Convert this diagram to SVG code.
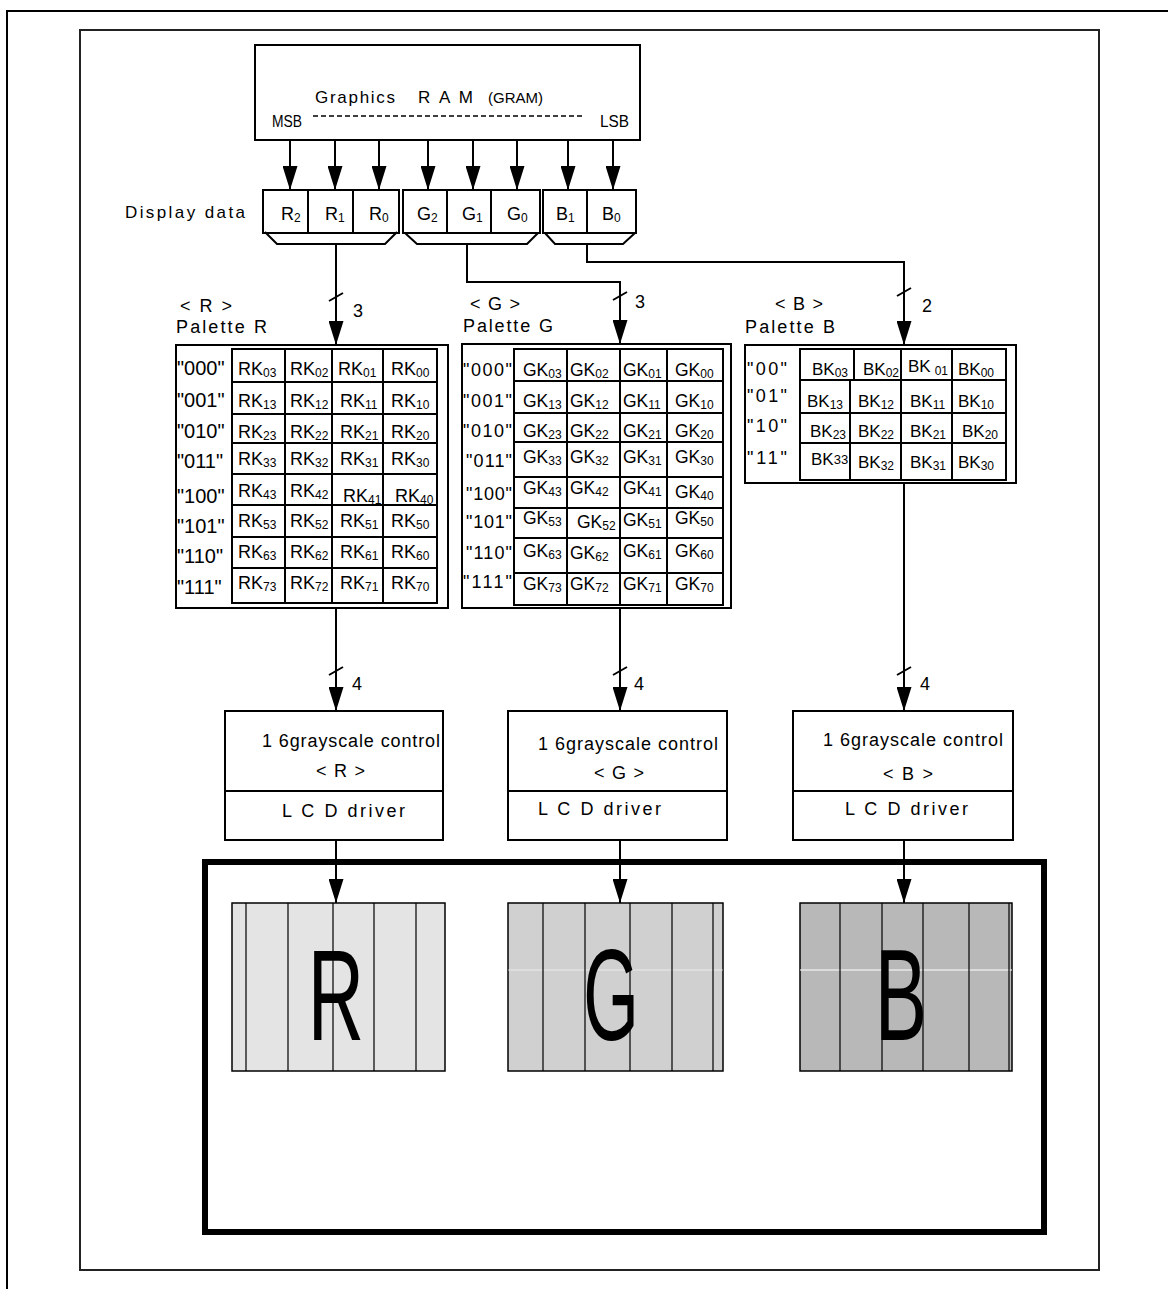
<svg xmlns="http://www.w3.org/2000/svg" width="1168" height="1289" viewBox="0 0 1168 1289">
<style>
text{font-family:"Liberation Sans",Arial,sans-serif;fill:#000}
.t16{font-size:17px}
.lab{font-size:18px}
.rl{font-size:20px}
.rc{font-size:18px}
.gc{font-size:17.5px}
.bc{font-size:17px}
.sub{font-size:12px}
.ln{stroke:#000;stroke-width:2;fill:none}
.box{fill:#fff;stroke:#000;stroke-width:2}
.grid{fill:none;stroke:#000;stroke-width:2}
.big{font-size:130px}
</style>
<defs>
<marker id="ah" viewBox="0 0 24 15" refX="24" refY="7.5" markerWidth="24" markerHeight="15" markerUnits="userSpaceOnUse" orient="auto">
<path d="M0,0 L24,7.5 L0,15 z" fill="#000"/>
</marker>
</defs>
<rect width="1168" height="1289" fill="#fff"/>
<g id="frames">
<path d="M7,1289 V11 H1168" class="ln"/>
<rect x="80" y="30" width="1019" height="1240" fill="none" stroke="#222" stroke-width="2"/>
<rect x="205" y="862" width="839" height="370" fill="none" stroke="#000" stroke-width="6"/>
</g>
<g id="gram">
<rect x="255" y="45" width="385" height="95" class="box"/>
<text class="t16" x="315" y="103" textLength="80" lengthAdjust="spacing">Graphics</text>
<text class="t16" x="418" y="103" textLength="55" lengthAdjust="spacing">R A M</text>
<text x="488" y="103" font-size="15" textLength="55" lengthAdjust="spacing">(GRAM)</text>
<text x="272" y="127" font-size="16" textLength="30" lengthAdjust="spacingAndGlyphs">MSB</text>
<text x="600" y="127" font-size="16" textLength="29" lengthAdjust="spacingAndGlyphs">LSB</text>
<line x1="313" y1="116" x2="585" y2="116" stroke="#000" stroke-width="1.5" stroke-dasharray="5 3"/>
</g>
<g id="display-data">
<text class="t16" x="125" y="218" textLength="120" lengthAdjust="spacing">Display data</text>
<rect x="263" y="190" width="136" height="43" class="box"/>
<line x1="308" y1="190" x2="308" y2="233" class="ln"/>
<line x1="353" y1="190" x2="353" y2="233" class="ln"/>
<rect x="403" y="190" width="137" height="43" class="box"/>
<line x1="447" y1="190" x2="447" y2="233" class="ln"/>
<line x1="491" y1="190" x2="491" y2="233" class="ln"/>
<rect x="543" y="190" width="93" height="43" class="box"/>
<line x1="587" y1="190" x2="587" y2="233" class="ln"/>
<text class="lab" x="281" y="220">R<tspan class="sub" dy="2">2</tspan></text>
<text class="lab" x="325" y="220">R<tspan class="sub" dy="2">1</tspan></text>
<text class="lab" x="369" y="220">R<tspan class="sub" dy="2">0</tspan></text>
<text class="lab" x="417" y="220">G<tspan class="sub" dy="2">2</tspan></text>
<text class="lab" x="462" y="220">G<tspan class="sub" dy="2">1</tspan></text>
<text class="lab" x="507" y="220">G<tspan class="sub" dy="2">0</tspan></text>
<text class="lab" x="556" y="220">B<tspan class="sub" dy="2">1</tspan></text>
<text class="lab" x="602" y="220">B<tspan class="sub" dy="2">0</tspan></text>
<path d="M265,232 L277,244 H385 L397,232" class="ln"/>
<path d="M405,233 L417,244 H527 L538,233" class="ln"/>
<path d="M545,233 L555,244 H623 L635,233" class="ln"/>
</g>
<g id="palette-r">
<text class="lab" x="180" y="312" textLength="52" lengthAdjust="spacing">&lt; R &gt;</text>
<text class="lab" x="176" y="333" textLength="91" lengthAdjust="spacing">Palette R</text>
<rect x="176" y="345" width="272" height="263" class="box"/>
<rect x="232" y="349" width="205" height="254" class="grid"/>
<path d="M232,382H437M232,414H437M232,443H437M232,474H437M232,505H437M232,537H437M232,568H437M285,349V603M332,349V603M383,349V603" class="grid"/>
<text class="rl" x="177" y="375">"000"</text>
<text class="rl" x="177" y="407">"001"</text>
<text class="rl" x="177" y="438">"010"</text>
<text class="rl" x="177" y="468">"011"</text>
<text class="rl" x="177" y="503">"100"</text>
<text class="rl" x="177" y="533">"101"</text>
<text class="rl" x="177" y="563">"110"</text>
<text class="rl" x="177" y="594">"111"</text>
<text class="rc" x="238" y="375">RK<tspan class="sub" dy="2">03</tspan></text>
<text class="rc" x="290" y="375">RK<tspan class="sub" dy="2">02</tspan></text>
<text class="rc" x="338" y="375">RK<tspan class="sub" dy="2">01</tspan></text>
<text class="rc" x="391" y="375">RK<tspan class="sub" dy="2">00</tspan></text>
<text class="rc" x="238" y="407">RK<tspan class="sub" dy="2">13</tspan></text>
<text class="rc" x="290" y="407">RK<tspan class="sub" dy="2">12</tspan></text>
<text class="rc" x="340" y="407">RK<tspan class="sub" dy="2">11</tspan></text>
<text class="rc" x="391" y="407">RK<tspan class="sub" dy="2">10</tspan></text>
<text class="rc" x="238" y="438">RK<tspan class="sub" dy="2">23</tspan></text>
<text class="rc" x="290" y="438">RK<tspan class="sub" dy="2">22</tspan></text>
<text class="rc" x="340" y="438">RK<tspan class="sub" dy="2">21</tspan></text>
<text class="rc" x="391" y="438">RK<tspan class="sub" dy="2">20</tspan></text>
<text class="rc" x="238" y="465">RK<tspan class="sub" dy="2">33</tspan></text>
<text class="rc" x="290" y="465">RK<tspan class="sub" dy="2">32</tspan></text>
<text class="rc" x="340" y="465">RK<tspan class="sub" dy="2">31</tspan></text>
<text class="rc" x="391" y="465">RK<tspan class="sub" dy="2">30</tspan></text>
<text class="rc" x="238" y="497">RK<tspan class="sub" dy="2">43</tspan></text>
<text class="rc" x="290" y="497">RK<tspan class="sub" dy="2">42</tspan></text>
<text class="rc" x="343" y="502">RK<tspan class="sub" dy="2">41</tspan></text>
<text class="rc" x="395" y="502">RK<tspan class="sub" dy="2">40</tspan></text>
<text class="rc" x="238" y="527">RK<tspan class="sub" dy="2">53</tspan></text>
<text class="rc" x="290" y="527">RK<tspan class="sub" dy="2">52</tspan></text>
<text class="rc" x="340" y="527">RK<tspan class="sub" dy="2">51</tspan></text>
<text class="rc" x="391" y="527">RK<tspan class="sub" dy="2">50</tspan></text>
<text class="rc" x="238" y="558">RK<tspan class="sub" dy="2">63</tspan></text>
<text class="rc" x="290" y="558">RK<tspan class="sub" dy="2">62</tspan></text>
<text class="rc" x="340" y="558">RK<tspan class="sub" dy="2">61</tspan></text>
<text class="rc" x="391" y="558">RK<tspan class="sub" dy="2">60</tspan></text>
<text class="rc" x="238" y="589">RK<tspan class="sub" dy="2">73</tspan></text>
<text class="rc" x="290" y="589">RK<tspan class="sub" dy="2">72</tspan></text>
<text class="rc" x="340" y="589">RK<tspan class="sub" dy="2">71</tspan></text>
<text class="rc" x="391" y="589">RK<tspan class="sub" dy="2">70</tspan></text>
</g>
<g id="palette-g">
<text class="lab" x="470" y="310" textLength="50" lengthAdjust="spacing">&lt; G &gt;</text>
<text class="lab" x="463" y="332" textLength="90" lengthAdjust="spacing">Palette G</text>
<rect x="462" y="344" width="269" height="264" class="box"/>
<rect x="514" y="349" width="209" height="256" class="grid"/>
<path d="M514,381H723M514,413H723M514,442H723M514,477H723M514,508H723M514,538H723M514,573H723M567,349V605M620,349V605M667,349V605" class="grid"/>
<text class="lab" x="463" y="376" textLength="49">"000"</text>
<text class="lab" x="463" y="407" textLength="49">"001"</text>
<text class="lab" x="463" y="437" textLength="49">"010"</text>
<text class="lab" x="466" y="467" textLength="46">"011"</text>
<text class="lab" x="466" y="500" textLength="46">"100"</text>
<text class="lab" x="466" y="528" textLength="46">"101"</text>
<text class="lab" x="466" y="559" textLength="46">"110"</text>
<text class="lab" x="463" y="588" textLength="49">"111"</text>
<text class="gc" x="523" y="376">GK<tspan class="sub" dy="2">03</tspan></text>
<text class="gc" x="570" y="376">GK<tspan class="sub" dy="2">02</tspan></text>
<text class="gc" x="623" y="376">GK<tspan class="sub" dy="2">01</tspan></text>
<text class="gc" x="675" y="376">GK<tspan class="sub" dy="2">00</tspan></text>
<text class="gc" x="523" y="407">GK<tspan class="sub" dy="2">13</tspan></text>
<text class="gc" x="570" y="407">GK<tspan class="sub" dy="2">12</tspan></text>
<text class="gc" x="623" y="407">GK<tspan class="sub" dy="2">11</tspan></text>
<text class="gc" x="675" y="407">GK<tspan class="sub" dy="2">10</tspan></text>
<text class="gc" x="523" y="437">GK<tspan class="sub" dy="2">23</tspan></text>
<text class="gc" x="570" y="437">GK<tspan class="sub" dy="2">22</tspan></text>
<text class="gc" x="623" y="437">GK<tspan class="sub" dy="2">21</tspan></text>
<text class="gc" x="675" y="437">GK<tspan class="sub" dy="2">20</tspan></text>
<text class="gc" x="523" y="463">GK<tspan class="sub" dy="2">33</tspan></text>
<text class="gc" x="570" y="463">GK<tspan class="sub" dy="2">32</tspan></text>
<text class="gc" x="623" y="463">GK<tspan class="sub" dy="2">31</tspan></text>
<text class="gc" x="675" y="463">GK<tspan class="sub" dy="2">30</tspan></text>
<text class="gc" x="523" y="494">GK<tspan class="sub" dy="2">43</tspan></text>
<text class="gc" x="570" y="494">GK<tspan class="sub" dy="2">42</tspan></text>
<text class="gc" x="623" y="494">GK<tspan class="sub" dy="2">41</tspan></text>
<text class="gc" x="675" y="498">GK<tspan class="sub" dy="2">40</tspan></text>
<text class="gc" x="523" y="524">GK<tspan class="sub" dy="2">53</tspan></text>
<text class="gc" x="577" y="528">GK<tspan class="sub" dy="2">52</tspan></text>
<text class="gc" x="623" y="526">GK<tspan class="sub" dy="2">51</tspan></text>
<text class="gc" x="675" y="524">GK<tspan class="sub" dy="2">50</tspan></text>
<text class="gc" x="523" y="557">GK<tspan class="sub" dy="2">63</tspan></text>
<text class="gc" x="570" y="559">GK<tspan class="sub" dy="2">62</tspan></text>
<text class="gc" x="623" y="557">GK<tspan class="sub" dy="2">61</tspan></text>
<text class="gc" x="675" y="557">GK<tspan class="sub" dy="2">60</tspan></text>
<text class="gc" x="523" y="590">GK<tspan class="sub" dy="2">73</tspan></text>
<text class="gc" x="570" y="590">GK<tspan class="sub" dy="2">72</tspan></text>
<text class="gc" x="623" y="590">GK<tspan class="sub" dy="2">71</tspan></text>
<text class="gc" x="675" y="590">GK<tspan class="sub" dy="2">70</tspan></text>
</g>
<g id="palette-b">
<text class="lab" x="775" y="310" textLength="48" lengthAdjust="spacing">&lt; B &gt;</text>
<text class="lab" x="745" y="333" textLength="90" lengthAdjust="spacing">Palette B</text>
<rect x="745" y="345" width="271" height="138" class="box"/>
<rect x="800" y="349" width="206" height="131" class="grid"/>
<path d="M800,380H1006M800,413H1006M800,443H1006M854,349V380M850,380V480M901,349V480M952,349V480" class="grid"/>
<text class="lab" x="747" y="375" textLength="40">"00"</text>
<text class="lab" x="747" y="402" textLength="40">"01"</text>
<text class="lab" x="747" y="432" textLength="40">"10"</text>
<text class="lab" x="747" y="464" textLength="40">"11"</text>
<text class="bc" x="812" y="375">BK<tspan class="sub" dy="2">03</tspan></text>
<text class="bc" x="863" y="375">BK<tspan class="sub" dy="2">02</tspan></text>
<text class="bc" x="908" y="372">BK<tspan class="sub" dx="4" dy="3">01</tspan></text>
<text class="bc" x="958" y="375">BK<tspan class="sub" dy="2">00</tspan></text>
<text class="bc" x="807" y="407">BK<tspan class="sub" dy="2">13</tspan></text>
<text class="bc" x="858" y="407">BK<tspan class="sub" dy="2">12</tspan></text>
<text class="bc" x="910" y="407">BK<tspan class="sub" dy="2">11</tspan></text>
<text class="bc" x="958" y="407">BK<tspan class="sub" dy="2">10</tspan></text>
<text class="bc" x="810" y="437">BK<tspan class="sub" dy="2">23</tspan></text>
<text class="bc" x="858" y="437">BK<tspan class="sub" dy="2">22</tspan></text>
<text class="bc" x="910" y="437">BK<tspan class="sub" dy="2">21</tspan></text>
<text class="bc" x="962" y="437">BK<tspan class="sub" dy="2">20</tspan></text>
<text class="bc" x="811" y="465">BK<tspan font-size="13" dy="-1">33</tspan></text>
<text class="bc" x="858" y="468">BK<tspan class="sub" dy="2">32</tspan></text>
<text class="bc" x="910" y="468">BK<tspan class="sub" dy="2">31</tspan></text>
<text class="bc" x="958" y="468">BK<tspan class="sub" dy="2">30</tspan></text>
</g>
<g id="gray-r">
<rect x="225" y="711" width="218" height="129" class="box"/>
<line x1="225" y1="791" x2="443" y2="791" class="ln"/>
<text class="lab" x="262" y="747" textLength="178" lengthAdjust="spacing">1 6grayscale control</text>
<text class="lab" x="316" y="777" textLength="49" lengthAdjust="spacing">&lt; R &gt;</text>
<text class="lab" x="282" y="817" textLength="123" lengthAdjust="spacing">L C D driver</text>
</g>
<g id="gray-g">
<rect x="508" y="711" width="219" height="129" class="box"/>
<line x1="508" y1="791" x2="727" y2="791" class="ln"/>
<text class="lab" x="538" y="750" textLength="180" lengthAdjust="spacing">1 6grayscale control</text>
<text class="lab" x="594" y="779" textLength="50" lengthAdjust="spacing">&lt; G &gt;</text>
<text class="lab" x="538" y="815" textLength="123" lengthAdjust="spacing">L C D driver</text>
</g>
<g id="gray-b">
<rect x="793" y="711" width="220" height="129" class="box"/>
<line x1="793" y1="791" x2="1013" y2="791" class="ln"/>
<text class="lab" x="823" y="746" textLength="180" lengthAdjust="spacing">1 6grayscale control</text>
<text class="lab" x="883" y="780" textLength="50" lengthAdjust="spacing">&lt; B &gt;</text>
<text class="lab" x="845" y="815" textLength="123" lengthAdjust="spacing">L C D driver</text>
</g>
<g id="screen-r">
<rect x="232" y="903" width="213" height="168" fill="#e4e4e4" stroke="#000" stroke-width="1.5"/>
<path d="M246,903V1071M288,903V1071M333,903V1071M374,903V1071M416,903V1071" stroke="#000" stroke-width="1.2"/>
<text class="big" transform="translate(336,1040) scale(0.6,1)" text-anchor="middle">R</text>
</g>
<g id="screen-g">
<rect x="508" y="903" width="215" height="168" fill="#d0d0d0" stroke="#000" stroke-width="1.5"/>
<line x1="508" y1="970" x2="723" y2="970" stroke="#fff" stroke-width="1" opacity="0.6"/>
<path d="M543,903V1071M585,903V1071M630,903V1071M672,903V1071M713,903V1071" stroke="#000" stroke-width="1.2"/>
<text class="big" transform="translate(611,1040) scale(0.55,1)" text-anchor="middle">G</text>
</g>
<g id="screen-b">
<rect x="800" y="903" width="212" height="168" fill="#b8b8b8" stroke="#000" stroke-width="1.5"/>
<line x1="800" y1="970" x2="1012" y2="970" stroke="#fff" stroke-width="1"/>
<path d="M840,903V1071M882,903V1071M923,903V1071M969,903V1071M1009,903V1071" stroke="#000" stroke-width="1.2"/>
<text class="big" transform="translate(901,1040) scale(0.6,1)" text-anchor="middle">B</text>
</g>
<g id="connectors" class="ln">
<path d="M290,140V190" marker-end="url(#ah)"/>
<path d="M335,140V190" marker-end="url(#ah)"/>
<path d="M379,140V190" marker-end="url(#ah)"/>
<path d="M428,140V190" marker-end="url(#ah)"/>
<path d="M473,140V190" marker-end="url(#ah)"/>
<path d="M517,140V190" marker-end="url(#ah)"/>
<path d="M568,140V190" marker-end="url(#ah)"/>
<path d="M613,140V190" marker-end="url(#ah)"/>
<path d="M336,244V345" marker-end="url(#ah)"/>
<path d="M467,244V282H620V344" marker-end="url(#ah)"/>
<path d="M587,244V262H904V345" marker-end="url(#ah)"/>
<path d="M336,608V711" marker-end="url(#ah)"/>
<path d="M620,608V711" marker-end="url(#ah)"/>
<path d="M904,483V711" marker-end="url(#ah)"/>
<path d="M336,840V903" marker-end="url(#ah)"/>
<path d="M620,840V903" marker-end="url(#ah)"/>
<path d="M904,840V903" marker-end="url(#ah)"/>
<path d="M329,301L343,293M613,300L627,292M897,296L911,288M329,675L343,667M613,675L627,667M897,675L911,667"/>
</g>
<g id="bus-widths">
<text class="lab" x="353" y="317">3</text>
<text class="lab" x="635" y="308">3</text>
<text class="lab" x="922" y="312">2</text>
<text class="lab" x="352" y="690">4</text>
<text class="lab" x="634" y="690">4</text>
<text class="lab" x="920" y="690">4</text>
</g>
</svg>
